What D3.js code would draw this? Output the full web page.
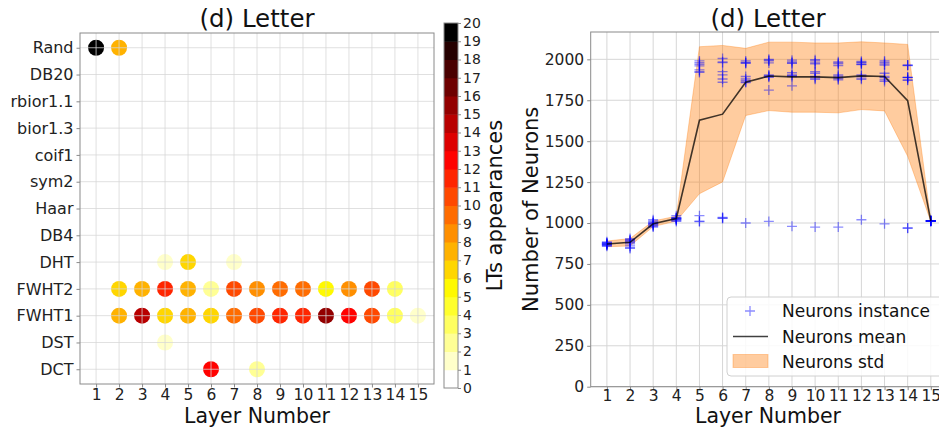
<!DOCTYPE html>
<html>
<head>
<meta charset="utf-8">
<script src="https://cdn.jsdelivr.net/npm/d3@7/dist/d3.min.js"></script>
<style>
  html, body { margin: 0; padding: 0; background: #fff; }
  svg { display: block; font-family: "DejaVu Sans", sans-serif; }
</style>
</head>
<body>
<svg id="fig" width="939" height="435"></svg>
<script>
// ---- Left panel: how often each transform (LT) appears at each layer ----
const transforms = ["Rand", "DB20", "rbior1.1", "bior1.3", "coif1", "sym2", "Haar",
                    "DB4", "DHT", "FWHT2", "FWHT1", "DST", "DCT"];
const layers = [1, 2, 3, 4, 5, 6, 7, 8, 9, 10, 11, 12, 13, 14, 15];
// [layer, appearances]
const randCounts  = [[1, 20], [2, 7]];
const dhtCounts   = [[4, 1], [5, 6], [7, 1]];
const fwht2Counts = [[2, 6], [3, 7], [4, 11], [5, 7], [6, 2], [7, 10], [8, 8], [9, 9],
                     [10, 9], [11, 5], [12, 8], [13, 10], [14, 3]];
const fwht1Counts = [[2, 7], [3, 14], [4, 6], [5, 7], [6, 6], [7, 9], [8, 10], [9, 11],
                     [10, 11], [11, 15], [12, 12], [13, 10], [14, 3], [15, 1]];
const dstCounts   = [[4, 1]];
const dctCounts   = [[6, 12], [8, 2]];
const colorbarTicks = d3.range(0, 21);

// ---- Right panel: neurons per layer ----
const neuronsMean  = [872, 882, 995, 1027, 1628, 1665, 1860, 1898, 1893, 1893, 1888, 1899, 1895, 1748, 1012];
const neuronsUpper = [890, 905, 1012, 1042, 2077, 2085, 2067, 2105, 2105, 2100, 2100, 2107, 2100, 2091, 1014];
const neuronsLower = [855, 860, 978, 1012, 1179, 1251, 1657, 1687, 1677, 1677, 1673, 1693, 1685, 1408, 1010];
const neuronsInstances = [
  [885, 878, 872, 870, 868, 865, 862, 875, 858, 880],
  [905, 898, 895, 890, 885, 880, 872, 860, 850, 845],
  [1020, 1012, 1005, 1000, 998, 995, 990, 985, 980, 975],
  [1045, 1035, 1030, 1028, 1025, 1022, 1020, 1015, 1010, 1030],
  [1990, 1980, 1970, 1960, 1935, 1925, 1920, 1045, 1012, 1008],
  [2005, 1985, 1980, 1925, 1905, 1880, 1860, 1035, 1030, 1028],
  [1990, 1982, 1978, 1975, 1895, 1880, 1870, 1862, 1858, 1000],
  [2000, 1995, 1990, 1978, 1905, 1900, 1895, 1890, 1812, 1010],
  [1995, 1985, 1978, 1975, 1918, 1905, 1900, 1895, 1838, 980],
  [1998, 1990, 1978, 1972, 1925, 1915, 1895, 1885, 1878, 975],
  [1985, 1978, 1972, 1962, 1905, 1898, 1890, 1882, 1875, 975],
  [1988, 1982, 1978, 1970, 1968, 1905, 1898, 1885, 1878, 1020],
  [1990, 1982, 1972, 1965, 1915, 1895, 1888, 1875, 1865, 995],
  [1965, 1962, 1890, 1888, 1875, 1872, 970, 968, 1890, 1965],
  [1015, 1015, 1012, 1012, 1010, 1015, 1012, 1010, 1015, 1012]
];
const neuronTicks = [0, 250, 500, 750, 1000, 1250, 1500, 1750, 2000];
const legendLabels = ["Neurons instance", "Neurons mean", "Neurons std"];

const svg = d3.select("#fig");
const gridColor = "#d6d6d6";
const spineColor = "#8a8a8a";
const titleSize = "24.5px", labelSize = "20.5px";
const xLabelBaseline = 423;

// matplotlib "hot" reversed, cut into 20 discrete levels
function hot(s) {
  const c = v => Math.max(0, Math.min(1, v));
  const r = c(s / 0.365079), g = c((s - 0.365079) / (0.746032 - 0.365079)),
        b = c((s - 0.746032) / (1 - 0.746032));
  return d3.rgb(r * 255, g * 255, b * 255).toString();
}
const nLevels = 20;
const levelColors = d3.range(nLevels).map(i => hot(1 - i / (nLevels - 1)));
const countColor = v => levelColors[Math.max(0, Math.min(nLevels - 1, Math.floor(v)))];

// ================= Left panel =================
const L = { left: 80, right: 434, top: 33, bottom: 384 };
const xL = d3.scaleLinear().domain([0.3, 15.7]).range([L.left, L.right]);
const rowIndex = name => transforms.length - 1 - transforms.indexOf(name);
const yL = d3.scaleLinear().domain([-0.55, transforms.length - 0.45]).range([L.bottom, L.top]);

const gL = svg.append("g");
const dots = [
  ["Rand", randCounts], ["DHT", dhtCounts], ["FWHT2", fwht2Counts],
  ["FWHT1", fwht1Counts], ["DST", dstCounts], ["DCT", dctCounts]
].flatMap(([name, arr]) => arr.map(([layer, n]) => ({ name, layer, n })));

gL.append("g").selectAll("circle").data(dots).join("circle")
  .attr("cx", d => xL(d.layer))
  .attr("cy", d => yL(rowIndex(d.name)))
  .attr("r", 8)
  .attr("fill", d => countColor(d.n));

// grid over the markers
const gridL = gL.append("g").attr("stroke", gridColor).attr("stroke-opacity", 0.75).attr("stroke-width", 1);
gridL.selectAll(".vx").data(layers).join("line")
  .attr("x1", d => xL(d)).attr("x2", d => xL(d)).attr("y1", L.top).attr("y2", L.bottom);
gridL.selectAll(".hy").data(transforms).join("line")
  .attr("x1", L.left).attr("x2", L.right)
  .attr("y1", d => yL(rowIndex(d))).attr("y2", d => yL(rowIndex(d)));

gL.append("rect").attr("x", L.left).attr("y", L.top)
  .attr("width", L.right - L.left).attr("height", L.bottom - L.top)
  .attr("fill", "none").attr("stroke", spineColor).attr("stroke-width", 1);

const axL = gL.append("g").attr("transform", `translate(0,${L.bottom})`)
  .call(d3.axisBottom(xL).tickValues(layers).tickFormat(d3.format("d")).tickSize(3.5).tickPadding(1.5));
const ayL = gL.append("g").attr("transform", `translate(${L.left},0)`)
  .call(d3.axisLeft(yL).tickValues(transforms.map(rowIndex))
        .tickFormat(i => transforms[transforms.length - 1 - i]).tickSize(3.5).tickPadding(3));
[axL, ayL].forEach(a => {
  a.select(".domain").remove();
  a.selectAll("line").attr("stroke", spineColor);
  a.selectAll("text").attr("fill", "#222").style("font-family", "DejaVu Sans");
});
axL.selectAll("text").style("font-size", "15.5px");
ayL.selectAll("text").style("font-size", "16px");

gL.append("text").attr("x", (L.left + L.right) / 2).attr("y", 27)
  .attr("text-anchor", "middle").style("font-size", titleSize).attr("fill", "#111").text("(d) Letter");
gL.append("text").attr("x", (L.left + L.right) / 2).attr("y", xLabelBaseline)
  .attr("text-anchor", "middle").style("font-size", labelSize).attr("fill", "#111").text("Layer Number");

// colorbar
const CB = { x: 444, w: 14, top: 23, bottom: 388 };
const yCB = d3.scaleLinear().domain([0, 20]).range([CB.bottom, CB.top]);
const gCB = svg.append("g");
gCB.selectAll("rect.lvl").data(levelColors).join("rect")
  .attr("x", CB.x).attr("width", CB.w)
  .attr("y", (d, i) => yCB(i + 1)).attr("height", (d, i) => yCB(i) - yCB(i + 1) + 0.5)
  .attr("fill", d => d);
gCB.append("rect").attr("x", CB.x).attr("y", CB.top).attr("width", CB.w)
  .attr("height", CB.bottom - CB.top).attr("fill", "none").attr("stroke", spineColor).attr("stroke-width", 1);
const acb = gCB.append("g").attr("transform", `translate(${CB.x + CB.w},0)`)
  .call(d3.axisRight(yCB).tickValues(colorbarTicks).tickSize(3).tickPadding(2));
acb.select(".domain").remove();
acb.selectAll("line").attr("stroke", spineColor);
acb.selectAll("text").attr("fill", "#222").style("font-size", "14px").style("font-family", "DejaVu Sans");
gCB.append("text").attr("transform", `translate(502,${(CB.top + CB.bottom) / 2}) rotate(-90)`)
  .attr("text-anchor", "middle").style("font-size", "21px").attr("fill", "#111").text("LTs appearances");

// ================= Right panel =================
const R = { left: 590.7, right: 947, top: 32, bottom: 386.7 };
const xR = d3.scaleLinear().domain([0.3, 15.7]).range([R.left, R.right]);
const yR = d3.scaleLinear().domain([0, 2167]).range([R.bottom, R.top]);
const gR = svg.append("g");

const gridR = gR.append("g").attr("stroke", gridColor).attr("stroke-width", 1);
gridR.selectAll(".vx").data(layers).join("line")
  .attr("x1", d => xR(d)).attr("x2", d => xR(d)).attr("y1", R.top).attr("y2", R.bottom);
gridR.selectAll(".hy").data(neuronTicks).join("line")
  .attr("x1", R.left).attr("x2", R.right).attr("y1", d => yR(d)).attr("y2", d => yR(d));

const band = d3.area()
  .x((d, i) => xR(layers[i]))
  .y0((d, i) => yR(neuronsLower[i]))
  .y1((d, i) => yR(neuronsUpper[i]));
gR.append("path").datum(layers).attr("d", band)
  .attr("fill", "#ff7f0e").attr("fill-opacity", 0.4)
  .attr("stroke", "#ff7f0e").attr("stroke-opacity", 0.35).attr("stroke-width", 1);

const plusSize = 5;
const plusPath = (cx, cy) => `M${cx - plusSize},${cy}H${cx + plusSize}M${cx},${cy - plusSize}V${cy + plusSize}`;
const instances = neuronsInstances.flatMap((vals, i) => vals.map(v => ({ layer: layers[i], v })));
gR.append("g").selectAll("path").data(instances).join("path")
  .attr("d", d => plusPath(xR(d.layer), yR(d.v)))
  .attr("stroke", "#0000ff").attr("stroke-opacity", 0.45).attr("stroke-width", 1.3).attr("fill", "none");

const meanLine = d3.line().x((d, i) => xR(layers[i])).y(d => yR(d));
gR.append("path").datum(neuronsMean).attr("d", meanLine)
  .attr("fill", "none").attr("stroke", "#000").attr("stroke-opacity", 0.75).attr("stroke-width", 1.6);

gR.append("rect").attr("x", R.left).attr("y", R.top)
  .attr("width", R.right - R.left).attr("height", R.bottom - R.top)
  .attr("fill", "none").attr("stroke", spineColor).attr("stroke-width", 1);

const axR = gR.append("g").attr("transform", `translate(0,${R.bottom})`)
  .call(d3.axisBottom(xR).tickValues(layers).tickFormat(d3.format("d")).tickSize(3.5).tickPadding(0));
const ayR = gR.append("g").attr("transform", `translate(${R.left},0)`)
  .call(d3.axisLeft(yR).tickValues(neuronTicks).tickFormat(d3.format("d")).tickSize(3.5).tickPadding(3));
[axR, ayR].forEach(a => {
  a.select(".domain").remove();
  a.selectAll("line").attr("stroke", spineColor);
  a.selectAll("text").attr("fill", "#222").style("font-size", "15.5px").style("font-family", "DejaVu Sans");
});

gR.append("text").attr("x", 768).attr("y", 27)
  .attr("text-anchor", "middle").style("font-size", titleSize).attr("fill", "#111").text("(d) Letter");
gR.append("text").attr("x", 768).attr("y", xLabelBaseline)
  .attr("text-anchor", "middle").style("font-size", labelSize).attr("fill", "#111").text("Layer Number");
gR.append("text").attr("transform", `translate(538,${(R.top + R.bottom) / 2}) rotate(-90)`)
  .attr("text-anchor", "middle").style("font-size", "21px").attr("fill", "#111").text("Number of Neurons");

// legend
const lg = gR.append("g").attr("transform", "translate(727,297)");
lg.append("rect").attr("x", 0).attr("y", 0).attr("width", 230).attr("height", 79).attr("rx", 4)
  .attr("fill", "#fff").attr("fill-opacity", 0.85).attr("stroke", "#d0d0d0").attr("stroke-width", 1);
const rowY = [14, 39.5, 64.5];
lg.append("path").attr("d", plusPath(23, rowY[0]))
  .attr("stroke", "#0000ff").attr("stroke-opacity", 0.45).attr("stroke-width", 1.3);
lg.append("line").attr("x1", 6).attr("x2", 41).attr("y1", rowY[1]).attr("y2", rowY[1])
  .attr("stroke", "#000").attr("stroke-opacity", 0.75).attr("stroke-width", 1.6);
lg.append("rect").attr("x", 6).attr("y", rowY[2] - 7).attr("width", 35).attr("height", 13)
  .attr("fill", "#ff7f0e").attr("fill-opacity", 0.4).attr("stroke", "#ff7f0e").attr("stroke-opacity", 0.35);
lg.selectAll("text.lbl").data(legendLabels).join("text")
  .attr("x", 55).attr("y", (d, i) => rowY[i] + 6)
  .style("font-size", "17px").attr("fill", "#111").text(d => d);
</script>
</body>
</html>
